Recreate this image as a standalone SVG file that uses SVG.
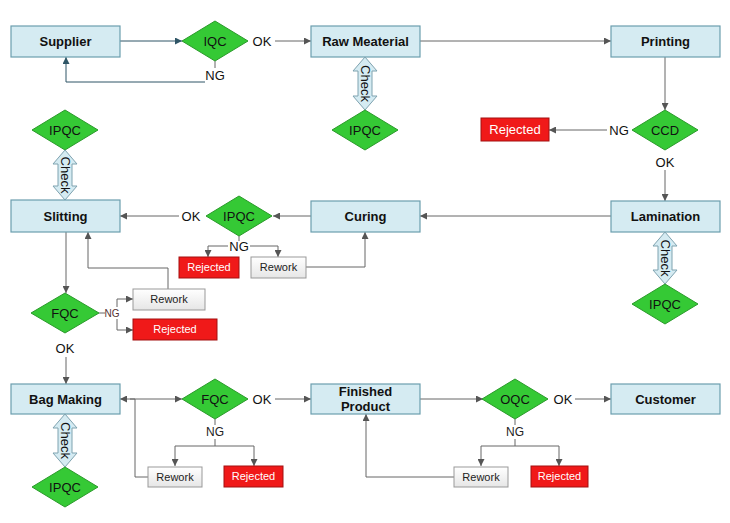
<svg xmlns="http://www.w3.org/2000/svg" width="730" height="523" viewBox="0 0 730 523">
<defs>
<marker id="ah" viewBox="0 0 10 10" refX="10" refY="5" markerWidth="7" markerHeight="7" orient="auto" markerUnits="userSpaceOnUse"><path d="M0,0 L10,5 L0,10 Z" fill="#555"/></marker>
<marker id="ahb" viewBox="0 0 10 10" refX="10" refY="5" markerWidth="7" markerHeight="7" orient="auto" markerUnits="userSpaceOnUse"><path d="M0,0 L10,5 L0,10 Z" fill="#2f5566"/></marker>
<linearGradient id="rw" x1="0" y1="0" x2="0" y2="1"><stop offset="0" stop-color="#ffffff"/><stop offset="1" stop-color="#e6e6e6"/></linearGradient>
</defs>
<style>
.box{fill:#d5ebf2;stroke:#6c9eae;stroke-width:1.2}
.dia{fill:#35c935;stroke:#2b9a2b;stroke-width:1}
.rej{fill:#f01919;stroke:#a31010;stroke-width:1}
.rew{fill:url(#rw);stroke:#999;stroke-width:1}
.chk{fill:#d5ebf2;stroke:#7fa3b0;stroke-width:1}
.bt{font-family:"Liberation Sans",Arial,sans-serif;font-size:13px;font-weight:bold;fill:#111;text-anchor:middle}
.dt{font-family:"Liberation Sans",Arial,sans-serif;font-size:13px;fill:#111;text-anchor:middle}
.lt{font-family:"Liberation Sans",Arial,sans-serif;font-size:13px;fill:#111;text-anchor:middle}
.st{font-family:"Liberation Sans",Arial,sans-serif;font-size:11px;fill:#222;text-anchor:middle}
.wt{font-family:"Liberation Sans",Arial,sans-serif;font-size:11px;fill:#fff;text-anchor:middle}
.ct{font-family:"Liberation Sans",Arial,sans-serif;font-size:13px;fill:#111;text-anchor:middle}
.ln{fill:none;stroke:#666;stroke-width:1}
.lnb{fill:none;stroke:#2f5566;stroke-width:1}
</style>

<g id="connectors">
<path class="lnb" d="M120,41 H182" marker-end="url(#ahb)"/>
<path class="ln" d="M275,41 H311" marker-end="url(#ah)"/>
<path class="ln" d="M215,61 V68"/>
<path class="lnb" d="M205,82 H66 V57" marker-end="url(#ahb)"/>
<path class="ln" d="M420,41 H611" marker-end="url(#ah)"/>
<path class="ln" d="M665,57 V110" marker-end="url(#ah)"/>
<path class="ln" d="M607,130 H549" marker-end="url(#ah)"/>
<path class="ln" d="M665,170 V201" marker-end="url(#ah)"/>
<path class="ln" d="M611,216 H420" marker-end="url(#ah)"/>
<path class="ln" d="M311,216 H273" marker-end="url(#ah)"/>
<path class="ln" d="M179,216 H120" marker-end="url(#ah)"/>
<path class="ln" d="M239,236 V241"/>
<path class="ln" d="M228,246 H208 V257" marker-end="url(#ah)"/>
<path class="ln" d="M250,246 H278 V257" marker-end="url(#ah)"/>
<path class="ln" d="M306,267 H365 V232" marker-end="url(#ah)"/>
<path class="ln" d="M66,232 V293" marker-end="url(#ah)"/>
<path class="ln" d="M168,289 V268 H88 V232" marker-end="url(#ah)"/>
<path class="ln" d="M99,313 H105"/>
<path class="ln" d="M117,307 V299 H133" marker-end="url(#ah)"/>
<path class="ln" d="M117,319 V330 H133" marker-end="url(#ah)"/>
<path class="ln" d="M66,357 V384" marker-end="url(#ah)"/>
<path class="ln" d="M130,399 H182" marker-end="url(#ah)"/>
<path class="ln" d="M135,399 H120" marker-end="url(#ah)"/>
<path class="ln" d="M148,477 H135 V399"/>
<path class="ln" d="M275,399 H311" marker-end="url(#ah)"/>
<path class="ln" d="M215,419 V425"/>
<path class="ln" d="M215,439 V446 M175,446 H254"/>
<path class="ln" d="M175,446 V466" marker-end="url(#ah)"/>
<path class="ln" d="M254,446 V466" marker-end="url(#ah)"/>
<path class="ln" d="M420,399 H483" marker-end="url(#ah)"/>
<path class="ln" d="M575,399 H611" marker-end="url(#ah)"/>
<path class="ln" d="M515,419 V425"/>
<path class="ln" d="M515,439 V446 M481,446 H559"/>
<path class="ln" d="M481,446 V466" marker-end="url(#ah)"/>
<path class="ln" d="M559,446 V466" marker-end="url(#ah)"/>
<path class="ln" d="M454,477 H366 V414" marker-end="url(#ah)"/>
</g>

<g id="supplier"><rect class="box" x="11" y="26" width="109" height="31"/><text class="bt" x="65.5" y="46">Supplier</text></g>
<g id="iqc"><polygon class="dia" points="215,21 248,41 215,61 182,41"/><text class="dt" x="215" y="46">IQC</text></g>
<g id="iqc-ok"><text class="lt" x="262" y="46">OK</text></g>
<g id="iqc-ng"><text class="lt" x="215" y="80">NG</text></g>
<g id="raw"><rect class="box" x="311" y="26" width="109" height="31"/><text class="bt" x="365.5" y="46">Raw Meaterial</text></g>
<g id="printing"><rect class="box" x="611" y="26" width="109" height="31"/><text class="bt" x="665.5" y="46">Printing</text></g>

<g id="raw-check"><path class="chk" d="M365,57 L377,71 L372,71 L372,96 L377,96 L365,110 L353,96 L358,96 L358,71 L353,71 Z"/><text class="ct" transform="translate(365,83.5) rotate(90)" dy="4.5">Check</text></g>
<g id="raw-ipqc"><polygon class="dia" points="365,110 398,130 365,150 332,130"/><text class="dt" x="365" y="135">IPQC</text></g>

<g id="ccd"><polygon class="dia" points="665,110 698,130 665,150 632,130"/><text class="dt" x="665" y="135">CCD</text></g>
<g id="ccd-ng"><text class="lt" x="619" y="135">NG</text></g>
<g id="ccd-ok"><text class="lt" x="665" y="167">OK</text></g>
<g id="rej1"><rect class="rej" x="481" y="118" width="68" height="23"/><text class="bt" x="515" y="134" style="fill:#fff;font-weight:normal">Rejected</text></g>

<g id="slit-ipqc"><polygon class="dia" points="65,110 98,130 65,150 32,130"/><text class="dt" x="65" y="135">IPQC</text></g>
<g id="slit-check"><path class="chk" d="M65,150 L77,164 L72,164 L72,186 L77,186 L65,200 L53,186 L58,186 L58,164 L53,164 Z"/><text class="ct" transform="translate(65,175) rotate(90)" dy="4.5">Check</text></g>

<g id="slitting"><rect class="box" x="11" y="200" width="109" height="32"/><text class="bt" x="65.5" y="221">Slitting</text></g>
<g id="ipqc2"><polygon class="dia" points="239,196 272,216 239,236 206,216"/><text class="dt" x="239" y="221">IPQC</text></g>
<g id="ipqc2-ok"><text class="lt" x="191" y="221">OK</text></g>
<g id="ipqc2-ng"><text class="lt" x="239" y="251">NG</text></g>
<g id="rej2"><rect class="rej" x="179" y="257" width="60" height="21"/><text class="wt" x="209" y="271">Rejected</text></g>
<g id="rew2"><rect class="rew" x="251" y="257" width="55" height="21"/><text class="st" x="278.5" y="271">Rework</text></g>
<g id="curing"><rect class="box" x="311" y="201" width="109" height="31"/><text class="bt" x="365.5" y="221">Curing</text></g>
<g id="lamination"><rect class="box" x="611" y="201" width="109" height="31"/><text class="bt" x="665.5" y="221">Lamination</text></g>
<g id="lam-check"><path class="chk" d="M665,232 L677,246 L672,246 L672,270 L677,270 L665,284 L653,270 L658,270 L658,246 L653,246 Z"/><text class="ct" transform="translate(665,258) rotate(90)" dy="4.5">Check</text></g>
<g id="lam-ipqc"><polygon class="dia" points="665,284 698,304 665,324 632,304"/><text class="dt" x="665" y="309">IPQC</text></g>

<g id="fqc1"><polygon class="dia" points="65,293 99,313 65,333 31,313"/><text class="dt" x="65" y="318">FQC</text></g>
<g id="fqc1-ng"><text x="112" y="317" style="font-family:'Liberation Sans',Arial,sans-serif;font-size:10px;fill:#553333;text-anchor:middle">NG</text></g>
<g id="fqc1-ok"><text class="lt" x="65" y="353">OK</text></g>
<g id="rew1"><rect class="rew" x="133" y="289" width="72" height="21"/><text class="st" x="169" y="303">Rework</text></g>
<g id="rej1b"><rect class="rej" x="133" y="319" width="84" height="21"/><text class="wt" x="175" y="333">Rejected</text></g>

<g id="bagmaking"><rect class="box" x="11" y="384" width="109" height="30"/><text class="bt" x="65.5" y="404">Bag Making</text></g>
<g id="bag-check"><path class="chk" d="M65,414 L77,428 L72,428 L72,453 L77,453 L65,467 L53,453 L58,453 L58,428 L53,428 Z"/><text class="ct" transform="translate(65,440.5) rotate(90)" dy="4.5">Check</text></g>
<g id="bag-ipqc"><polygon class="dia" points="65,467 98,487 65,507 32,487"/><text class="dt" x="65" y="492">IPQC</text></g>

<g id="fqc2"><polygon class="dia" points="215,379 248,399 215,419 182,399"/><text class="dt" x="215" y="404">FQC</text></g>
<g id="fqc2-ok"><text class="lt" x="262" y="404">OK</text></g>
<g id="fqc2-ng"><text class="st" x="215" y="436" style="font-size:12px">NG</text></g>
<g id="rew3"><rect class="rew" x="148" y="467" width="54" height="20"/><text class="st" x="175" y="481">Rework</text></g>
<g id="rej3"><rect class="rej" x="224" y="466" width="59" height="21"/><text class="wt" x="253.5" y="480">Rejected</text></g>

<g id="finished"><rect class="box" x="311" y="384" width="109" height="30"/><text class="bt" x="365.5" y="396">Finished</text><text class="bt" x="365.5" y="411">Product</text></g>
<g id="oqc"><polygon class="dia" points="515,379 548,399 515,419 482,399"/><text class="dt" x="515" y="404">OQC</text></g>
<g id="oqc-ok"><text class="lt" x="563" y="404">OK</text></g>
<g id="oqc-ng"><text class="st" x="515" y="436" style="font-size:12px">NG</text></g>
<g id="rew4"><rect class="rew" x="454" y="467" width="54" height="20"/><text class="st" x="481" y="481">Rework</text></g>
<g id="rej4"><rect class="rej" x="531" y="466" width="57" height="21"/><text class="wt" x="559.5" y="480">Rejected</text></g>
<g id="customer"><rect class="box" x="611" y="384" width="109" height="30"/><text class="bt" x="665.5" y="404">Customer</text></g>
</svg>
